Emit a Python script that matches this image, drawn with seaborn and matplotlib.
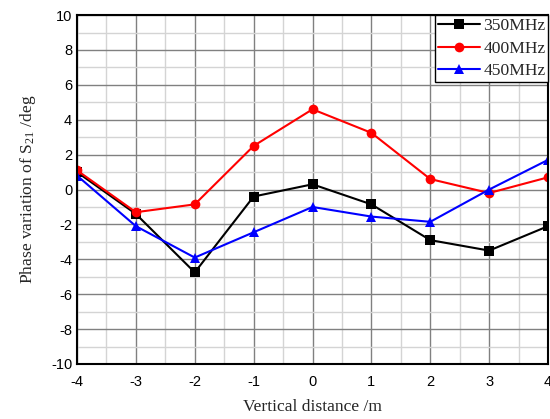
import numpy as np
import pandas as pd
import matplotlib
matplotlib.use("Agg")
import matplotlib.pyplot as plt
import seaborn as sns
from matplotlib.ticker import MultipleLocator

distance = [-4, -3, -2, -1, 0, 1, 2, 3, 4]
phase_350 = [1.0, -1.4, -4.75, -0.4, 0.3, -0.85, -2.9, -3.5, -2.1]
phase_400 = [1.1, -1.3, -0.85, 2.5, 4.6, 3.25, 0.6, -0.2, 0.7]
phase_450 = [0.8, -2.1, -3.9, -2.45, -1.0, -1.55, -1.85, 0.0, 1.7]
series = ["350MHz", "400MHz", "450MHz"]

df = pd.DataFrame({
    "distance": distance * 3,
    "phase": phase_350 + phase_400 + phase_450,
    "freq": [series[0]] * 9 + [series[1]] * 9 + [series[2]] * 9,
})

sns.set_style("white")
plt.rcParams["font.family"] = ["Liberation Sans", "DejaVu Sans"]
plt.rcParams["axes.unicode_minus"] = False
plt.rcParams["mathtext.fontset"] = "custom"
plt.rcParams["mathtext.rm"] = "Liberation Serif"
plt.rcParams["mathtext.it"] = "Liberation Serif:italic"

fig = plt.figure(figsize=(5.5, 4.19), dpi=100)
ax = fig.add_axes([0.14, 0.1313, 0.8564, 0.8327])

sns.lineplot(data=df, x="distance", y="phase", hue="freq", style="freq",
             palette=["black", "red", "blue"], markers=["s", "o", "^"],
             dashes=False, markersize=7, linewidth=1.5, markeredgewidth=0,
             ax=ax, legend=True)

ax.set_xlim(-4, 4)
ax.set_ylim(-10, 10)
ax.xaxis.set_major_locator(MultipleLocator(1))
ax.xaxis.set_minor_locator(MultipleLocator(0.5))
ax.yaxis.set_major_locator(MultipleLocator(2))
ax.yaxis.set_minor_locator(MultipleLocator(1))
ax.grid(which="major", color="#808080", linewidth=1.0)
ax.grid(which="minor", color="#d4d4d4", linewidth=1.0)
ax.set_axisbelow(True)
ax.tick_params(which="both", direction="in", labelsize=10.5, colors="black")
ax.tick_params(which="major", length=5, width=1.2)
ax.tick_params(which="minor", length=3, width=1.0)
ax.tick_params(axis="x", pad=8)
for s in ax.spines.values():
    s.set_color("black")
    s.set_linewidth(1.5)

ax.set_xlabel("Vertical distance /m", family="Liberation Serif", fontsize=12.6, labelpad=7)
ax.set_ylabel("Phase variation of S$_{\\mathrm{21}}$ /deg", family="Liberation Serif",
              fontsize=12.6, labelpad=9)

h, l = ax.get_legend_handles_labels()
leg = ax.legend(h, l, loc="upper right", borderaxespad=0, fancybox=False,
                frameon=True, framealpha=1, edgecolor="black",
                prop={"family": "Liberation Serif", "size": 12.6},
                handlelength=2.4, handletextpad=0.2, labelspacing=0.37,
                borderpad=0.15)
leg.get_frame().set_linewidth(1.0)

fig.savefig("out.png", dpi=100)
